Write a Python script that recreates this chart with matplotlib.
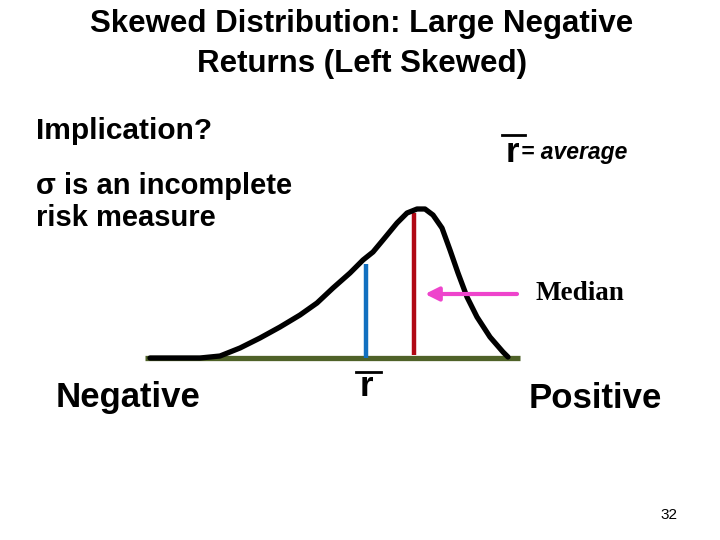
import matplotlib
matplotlib.use("Agg")
import matplotlib.pyplot as plt

# Curve (pixel-like coordinates of the slide)
curve_x = [150, 200, 220, 240, 260, 280, 300, 317, 333, 350, 363, 373, 383, 397,
           407, 417, 425, 433, 442, 450, 458, 467, 477, 490, 503, 508]
curve_y = [358, 358, 356, 348, 338, 327, 315, 303, 288, 273, 260, 252, 240, 223,
           213, 209, 209, 215, 228, 250, 273, 297, 317, 337, 352, 357]

baseline_x = [145, 520]
baseline_y = [358, 358]

mean_x = 366
mean_top = 264
median_x = 414
median_top = 213
axis_y = 358

arrow_tail = (517, 294)
arrow_head = (425, 294)

title_text = "Skewed Distribution: Large Negative\nReturns (Left Skewed)"
left_lines = ["Implication?", "\u03c3 is an incomplete\nrisk measure"]
neg_label = "Negative"
pos_label = "Positive"
median_label = "Median"
avg_label = "= average"
page_no = "32"

fig = plt.figure(figsize=(7.2, 5.4), dpi=100)
ax = fig.add_axes([0, 0, 1, 1])
ax.set_xlim(0, 720)
ax.set_ylim(540, 0)
ax.axis("off")

sans = "Liberation Sans"
serif = "Liberation Serif"

# baseline
ax.plot(baseline_x, baseline_y, color="#4f6228", lw=3.8, solid_capstyle="butt", zorder=1)
# curve
ax.plot(curve_x, curve_y, color="black", lw=3.8, solid_capstyle="round",
        solid_joinstyle="round", zorder=3)
# mean (blue) and median (red) lines
ax.plot([mean_x, mean_x], [mean_top, axis_y], color="#1270c0", lw=3.2, zorder=2,
        solid_capstyle="butt")
ax.plot([median_x, median_x], [median_top, 355], color="#b00814", lw=3.2, zorder=2,
        solid_capstyle="butt")

# median arrow
ax.annotate("", xy=arrow_head, xytext=arrow_tail,
            arrowprops=dict(arrowstyle="-|>,head_length=0.8,head_width=0.4",
                            color="#ee44cc", lw=3.0, shrinkA=0, shrinkB=0),
            zorder=4)

# texts
ax.text(362, 44, title_text, ha="center", va="center", fontsize=22.5,
        family=sans, weight="bold", linespacing=1.4)
ax.text(36, 131, left_lines[0], ha="left", va="center", fontsize=21.5,
        family=sans, weight="bold")
ax.text(36, 202, left_lines[1], ha="left", va="center", fontsize=21,
        family=sans, weight="bold", linespacing=1.22)
ax.text(56, 398, neg_label, ha="left", va="center", fontsize=25, family=sans,
        weight="bold")
ax.text(529, 398, pos_label, ha="left", va="center", fontsize=25, family=sans,
        weight="bold")
ax.text(535, 293, median_label, ha="left", va="center", fontsize=19.5, family=serif,
        weight="bold")

# r-bar = average (top right)
ax.text(512, 152, "r", ha="center", va="center", fontsize=25, family=sans, weight="bold")
ax.plot([502, 525], [135, 135], color="black", lw=2.0)
ax.text(521, 153, avg_label, ha="left", va="center", fontsize=16.5, family=sans,
        style="italic", weight="bold")

# r-bar below axis
ax.text(366, 387, "r", ha="center", va="center", fontsize=25, family=sans, weight="bold")
ax.plot([356, 381], [372, 372], color="black", lw=2.0)

ax.text(669, 515, page_no, ha="center", va="center", fontsize=11, family=sans)

fig.savefig("out.png", dpi=100)
